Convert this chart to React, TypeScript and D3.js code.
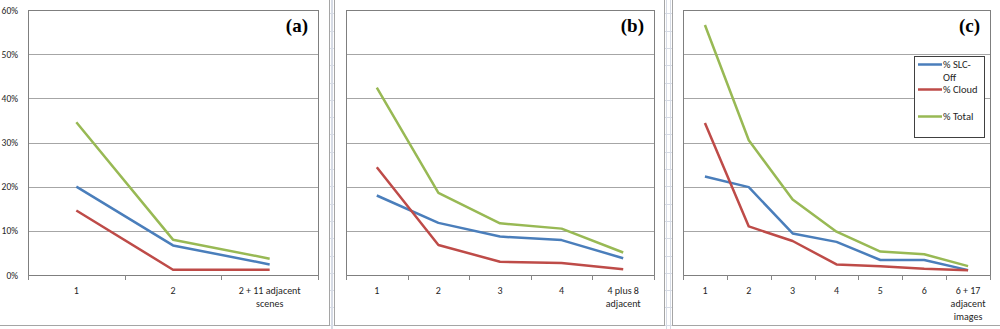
import React from 'react';
import * as d3 from 'd3';

// category labels (\n = line break)
const catsA = ['1', '2', '2 + 11 adjacent\nscenes'];
const catsB = ['1', '2', '3', '4', '4 plus 8\nadjacent'];
const catsC = ['1', '2', '3', '4', '5', '6', '6 + 17\nadjacent\nimages'];

// values in %
const slcA = [20, 6.7, 2.4];
const cloudA = [14.6, 1.2, 1.2];
const totalA = [34.6, 8, 3.7];

const slcB = [18, 11.8, 8.7, 7.9, 3.8];
const cloudB = [24.4, 6.8, 3, 2.7, 1.3];
const totalB = [42.4, 18.6, 11.7, 10.5, 5.1];

const slcC = [22.3, 19.9, 9.4, 7.5, 3.4, 3.4, 1.1];
const cloudC = [34.4, 11, 7.7, 2.4, 2, 1.4, 1.1];
const totalC = [56.6, 30.5, 17.1, 9.8, 5.3, 4.7, 2];

const yTicks = [0, 10, 20, 30, 40, 50, 60];
const seriesNames = ['% SLC-\nOff', '% Cloud', '% Total'];
const colors = ['#4a7ebb', '#be4b48', '#98b954'];

const FONT = 'Carlito, Lato, "Open Sans", sans-serif';

type PanelProps = {
  cats: string[];
  series: number[][];
  tag: string;
  frame: [number, number];
  plot: [number, number];
  showY?: boolean;
  legend?: boolean;
};

const Panel = ({ cats, series, tag, frame, plot, showY, legend }: PanelProps) => {
  const top = 10, bottom = 275;
  const x = d3.scaleBand<string>().domain(cats).range(plot).padding(0);
  const y = d3.scaleLinear().domain([0, 60]).range([bottom, top]);
  const cx = (c: string) => (x(c) as number) + x.bandwidth() / 2;
  const line = d3.line<number>()
    .x((_, i) => cx(cats[i]))
    .y(d => y(d));

  return (
    <g>
      <rect x={frame[0] + 0.5} y={-5} width={frame[1] - frame[0]} height={330.5}
        fill="#fff" stroke="#a5a5a5" />
      {yTicks.slice(1, -1).map(t => (
        <line key={t} x1={plot[0]} x2={plot[1]} y1={Math.round(y(t)) + 0.5} y2={Math.round(y(t)) + 0.5}
          stroke="#a6a6a6" />
      ))}
      <rect x={plot[0] + 0.5} y={top + 0.5} width={plot[1] - plot[0]} height={bottom - top}
        fill="none" stroke="#7f7f7f" />
      {/* x axis ticks */}
      {cats.map((c, i) => (
        <line key={'t' + i} x1={Math.round(x(c) as number) + 0.5} x2={Math.round(x(c) as number) + 0.5}
          y1={bottom} y2={bottom + 5} stroke="#868686" />
      ))}
      <line x1={plot[1] + 0.5} x2={plot[1] + 0.5} y1={bottom} y2={bottom + 5} stroke="#868686" />
      {cats.map((c, i) => (
        <text key={'l' + i} x={cx(c)} y={294} textAnchor="middle" fontFamily={FONT}
          fontSize={10} fill="#262626">
          {c.split('\n').map((s, j) => (
            <tspan key={j} x={cx(c)} dy={j === 0 ? 0 : 13}>{s}</tspan>
          ))}
        </text>
      ))}
      {showY && yTicks.map(t => (
        <text key={'y' + t} x={18} y={y(t) + 3.5} textAnchor="end" fontFamily={FONT}
          fontSize={9.5} fill="#262626">{t}%</text>
      ))}
      {series.map((s, i) => (
        <path key={'s' + i} d={line(s) || ''} fill="none" stroke={colors[i]} strokeWidth={2.5}
          strokeLinejoin="round" />
      ))}
      <text x={plot[1] - 10} y={32} textAnchor="end" fontFamily='"Liberation Serif", serif'
        fontWeight="bold" fontSize={19} fill="#000">{tag}</text>
      {legend && (
        <g>
          <rect x={914.5} y={56.5} width={70} height={81} fill="#fff" stroke="#404040" />
          {seriesNames.map((n, i) => {
            const ly = [64.5, 89.5, 116.5][i];
            return (
              <g key={'lg' + i}>
                <line x1={918} x2={942} y1={ly} y2={ly} stroke={colors[i]} strokeWidth={2.5} />
                <text x={943} y={ly + 3.5} fontFamily={FONT} fontSize={10.5} fill="#262626">
                  {n.split('\n').map((s, j) => (
                    <tspan key={j} x={943} dy={j === 0 ? 0 : 13}>{s}</tspan>
                  ))}
                </text>
              </g>
            );
          })}
        </g>
      )}
    </g>
  );
};

const App = () => {
  const strips = [[329, 334], [664, 672]];
  const rows = d3.range(-4, 330, 17.3);
  return (
    <svg width={1000} height={329} style={{ position: 'absolute', left: 0, top: 0, background: '#fff' }}>
      {strips.map(([a, b], i) => (
        <g key={i}>
          <line x1={a + 2.5} x2={a + 2.5} y1={0} y2={329} stroke="#d6dbe5" />
          <line x1={b - 1.5} x2={b - 1.5} y1={0} y2={329} stroke="#d6dbe5" />
          {rows.map(r => (
            <line key={r} x1={a} x2={b} y1={Math.round(r) + 0.5} y2={Math.round(r) + 0.5} stroke="#d6dbe5" />
          ))}
        </g>
      ))}
      <Panel cats={catsA} series={[slcA, cloudA, totalA]} tag="(a)" frame={[-2, 329]} plot={[28, 318]} showY />
      <Panel cats={catsB} series={[slcB, cloudB, totalB]} tag="(b)" frame={[334, 664]} plot={[346, 654]} />
      <Panel cats={catsC} series={[slcC, cloudC, totalC]} tag="(c)" frame={[672, 1004]} plot={[683, 990]} legend />
    </svg>
  );
};

export default App;
